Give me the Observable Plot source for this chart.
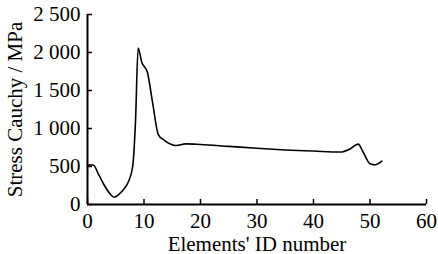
<!DOCTYPE html>
<html>
<head>
<meta charset="utf-8">
<script src="https://cdn.jsdelivr.net/npm/d3@7"></script>
<script src="https://cdn.jsdelivr.net/npm/@observablehq/plot@0.6"></script>
<style>
  html, body { margin: 0; padding: 0; background: #fff; }
  svg { display: block; }
</style>
</head>
<body>
<div id="chart"></div>
<script>
const elementId = [0, 1, 2, 3, 4, 4.7, 5.5, 6.3, 7.2, 8, 8.5, 8.96, 9.6, 10.6, 11.5, 12.55, 13.5, 15.6, 17.4, 20, 25, 30, 35, 40, 44.7, 46.5, 47.9, 48.8, 50, 50.9, 52.1];
const stress    = [518, 520, 390, 250, 140, 96, 130, 190, 293, 500, 1100, 2060, 1873, 1741, 1350, 917, 850, 776, 798, 790, 765, 740, 718, 703, 690, 733, 795, 688, 535, 522, 570];
const xTicks = [0, 10, 20, 30, 40, 50, 60];
const yTicks = [0, 500, 1000, 1500, 2000, 2500];

const data = elementId.map((x, i) => ({x, y: stress[i]}));
const fmt = d => d3.format(",")(d).replace(/,/g, " ");

const chart = Plot.plot({
  width: 438,
  height: 254,
  marginLeft: 87,
  marginRight: 12,
  marginTop: 14,
  marginBottom: 50,
  style: {fontFamily: "'Liberation Serif', 'Times New Roman', serif", fontSize: "21px", color: "#000", background: "#fff"},
  x: {domain: [0, 60], ticks: xTicks},
  y: {domain: [0, 2500], ticks: yTicks},
  marks: [
    Plot.ruleX([0], {stroke: "#000", strokeWidth: 2}),
    Plot.ruleY([0], {stroke: "#000", strokeWidth: 2}),
    Plot.axisX({ticks: xTicks, tickSize: -5, tickPadding: 14, strokeWidth: 1.5, fontSize: 21,
      label: "Elements' ID number", labelAnchor: "center", labelArrow: "none", labelOffset: 46}),
    Plot.axisY({ticks: yTicks, tickSize: -5, tickPadding: 12, strokeWidth: 1.5, fontSize: 21, tickFormat: fmt,
      label: "Stress Cauchy / MPa", labelAnchor: "center", labelArrow: "none", labelOffset: 80}),
    Plot.line(data, {x: "x", y: "y", stroke: "#000", strokeWidth: 1.6, curve: "monotone-x"})
  ]
});
document.getElementById("chart").append(chart);
</script>
</body>
</html>
